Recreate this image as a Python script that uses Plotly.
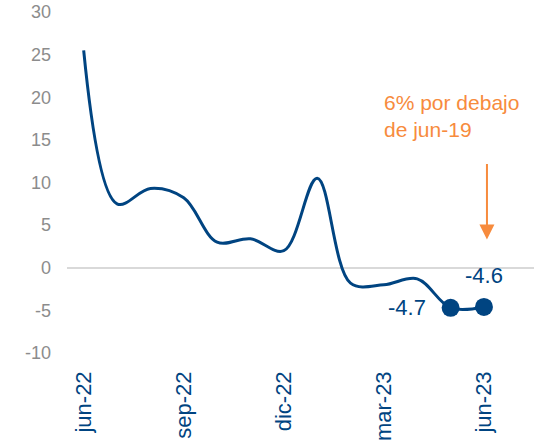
import plotly.graph_objects as go

# Monthly series (% change)
months = ["jun-22", "jul-22", "ago-22", "sep-22", "oct-22", "nov-22", "dic-22",
          "ene-23", "feb-23", "mar-23", "abr-23", "may-23", "jun-23"]
values = [25.5, 7.5, 9.3, 8.2, 3.0, 3.4, 2.0, 10.5, -1.8, -2.0, -1.3, -4.7, -4.6]
tick_months = ["jun-22", "sep-22", "dic-22", "mar-23", "jun-23"]
y_ticks = [-10, -5, 0, 5, 10, 15, 20, 25, 30]

NAVY = "#004481"
ORANGE = "#F78B3D"
GREY = "#8C8C8C"
FONT = "Liberation Sans, Arial, sans-serif"

fig = go.Figure()

fig.add_trace(go.Scatter(
    x=months, y=values, mode="lines",
    line=dict(color=NAVY, width=3, shape="spline", smoothing=1.0),
    hoverinfo="skip", showlegend=False,
))

# Highlight the last two months
fig.add_trace(go.Scatter(
    x=months[-2:], y=values[-2:], mode="markers",
    marker=dict(color=NAVY, size=18),
    showlegend=False,
))

fig.add_annotation(x=months[-2], y=values[-2], text=f"{values[-2]:.1f}",
                   showarrow=False, xanchor="right", xshift=-23,
                   font=dict(family=FONT, size=22, color=NAVY))
fig.add_annotation(x=months[-1], y=values[-1], text=f"{values[-1]:.1f}",
                   showarrow=False, yanchor="bottom", yshift=17,
                   font=dict(family=FONT, size=22, color=NAVY))

# Orange note with downward arrow
fig.add_annotation(x="mar-23", y=17.8, text="6% por debajo<br>de jun-19",
                   showarrow=False, xanchor="left", yanchor="middle", align="left",
                   xshift=-2,
                   font=dict(family=FONT, size=21, color=ORANGE))
fig.add_annotation(x="jun-23", y=3.3, text="", showarrow=True,
                   ax=0, ay=-77, axref="pixel", ayref="pixel",
                   xshift=3,
                   arrowhead=2, arrowsize=1.5, arrowwidth=2, arrowcolor=ORANGE)

fig.update_layout(
    width=534, height=441,
    margin=dict(l=67, r=0, t=12, b=88),
    paper_bgcolor="white", plot_bgcolor="white",
    font=dict(family=FONT),
    xaxis=dict(
        type="category", categoryorder="array", categoryarray=months,
        range=[-0.5, 13.5],
        tickmode="array", tickvals=tick_months, ticktext=tick_months,
        tickangle=-90, tickfont=dict(size=22, color=NAVY),
        showgrid=False, zeroline=False, showline=False, ticks="",
        ticklabelstandoff=13,
    ),
    yaxis=dict(
        range=[-10, 30], tickmode="array", tickvals=y_ticks,
        ticktext=[str(v) for v in y_ticks],
        tickfont=dict(size=18, color=GREY),
        showgrid=False, zeroline=True, zerolinecolor="#D9D9D9", zerolinewidth=1.5,
        showline=False, ticks="", ticklabelstandoff=15,
    ),
)

fig.write_html("out.html")
